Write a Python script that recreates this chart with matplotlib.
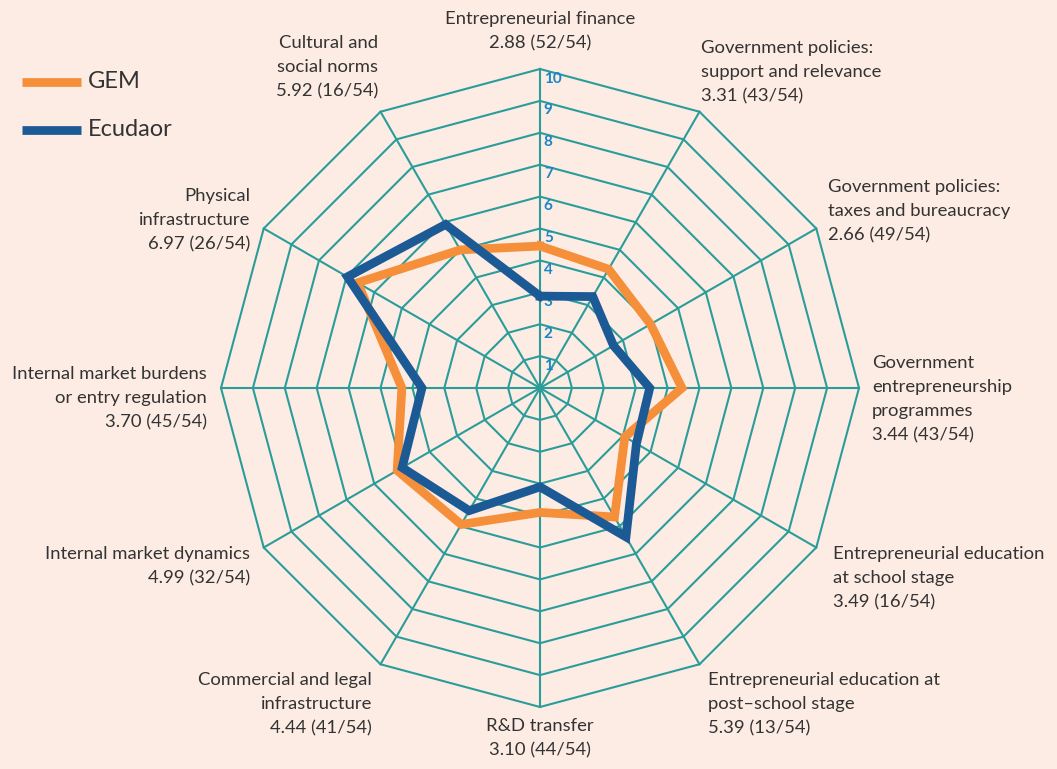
import numpy as np
import matplotlib.pyplot as plt

# GEM national expert survey framework conditions, clockwise from the top
categories = [
    "Entrepreneurial finance",
    "Government policies:\nsupport and relevance",
    "Government policies:\ntaxes and bureaucracy",
    "Government\nentrepreneurship\nprogrammes",
    "Entrepreneurial education\nat school stage",
    "Entrepreneurial education at\npost\u2013school stage",
    "R&D transfer",
    "Commercial and legal\ninfrastructure",
    "Internal market dynamics",
    "Internal market burdens\nor entry regulation",
    "Physical\ninfrastructure",
    "Cultural and\nsocial norms",
]
ecuador = [2.88, 3.31, 2.66, 3.44, 3.49, 5.39, 3.10, 4.44, 4.99, 3.70, 6.97, 5.92]
ranks = ["52/54", "43/54", "49/54", "43/54", "16/54", "13/54",
         "44/54", "41/54", "32/54", "45/54", "26/54", "16/54"]
gem = [4.45, 4.3, 4.0, 4.45, 3.07, 4.67, 3.9, 4.94, 5.17, 4.33, 6.6, 5.0]
rings = list(range(1, 11))
series_names = ["GEM", "Ecudaor"]

BG = "#fdece4"
GRID = "#2a9d9a"
ORANGE = "#f58f3a"
BLUE = "#1c5a96"
TICK = "#1a86c8"
TEXT = "#333333"

plt.rcParams["font.family"] = ["Lato", "DejaVu Sans"]

W, H = 1057, 769
fig = plt.figure(figsize=(W / 100, H / 100), dpi=100)
fig.patch.set_facecolor(BG)
ax = fig.add_axes([0, 0, 1, 1])
ax.set_facecolor(BG)
cx, cy, unit = 540, 388, 31.9
ax.set_xlim(-cx / unit, (W - cx) / unit)
ax.set_ylim(-(H - cy) / unit, cy / unit)
ax.set_aspect("equal")
ax.axis("off")

n = len(categories)
theta = 2 * np.pi * np.arange(n) / n
closed = np.append(theta, theta[0])


def to_xy(r, t):
    r = np.asarray(r, dtype=float)
    return r * np.sin(t), r * np.cos(t)


# polygon grid and spokes
for r in rings:
    x, y = to_xy(np.full(n + 1, r), closed)
    ax.plot(x, y, color=GRID, lw=1.5, zorder=1)
for t in theta:
    x, y = to_xy([0, rings[-1]], np.array([t, t]))
    ax.plot(x, y, color=GRID, lw=1.5, zorder=1)

# ring labels along the top spoke
for r in rings:
    ax.text(0.12, r - 0.08, str(r), color=TICK, fontsize=11, fontweight="bold",
            ha="left", va="top", zorder=2)

# data series
for vals, color, z in [(gem, ORANGE, 3), (ecuador, BLUE, 4)]:
    x, y = to_xy(np.append(vals, vals[0]), closed)
    ax.plot(x, y, color=color, lw=6.3, solid_joinstyle="miter", zorder=z)

# axis labels: (x px, top y px, align)
label_pos = [
    (540, 11, "center"),
    (701, 40, "left"),
    (828, 179, "left"),
    (872, 355, "left"),
    (833, 546, "left"),
    (708, 672, "left"),
    (540, 718, "center"),
    (372, 672, "right"),
    (250, 546, "right"),
    (207, 366, "right"),
    (250, 188, "right"),
    (378, 35, "right"),
]
for name, score, rank, (px, py, ha) in zip(categories, ecuador, ranks, label_pos):
    fig.text(px / W, 1 - py / H, f"{name}\n{score:.2f} ({rank})", ha=ha, va="top",
             fontsize=13.3, color=TEXT, linespacing=1.62, multialignment=ha)

# legend
for (name, color, ly) in zip(series_names, [ORANGE, BLUE], [82, 130]):
    fig.add_artist(plt.Line2D([22 / W, 81 / W], [1 - ly / H, 1 - ly / H],
                              color=color, lw=6.3, solid_capstyle="butt"))
    fig.text(88 / W, 1 - ly / H, name, fontsize=17, color=TEXT,
             ha="left", va="center")

fig.savefig("out.png", dpi=100, facecolor=BG)
